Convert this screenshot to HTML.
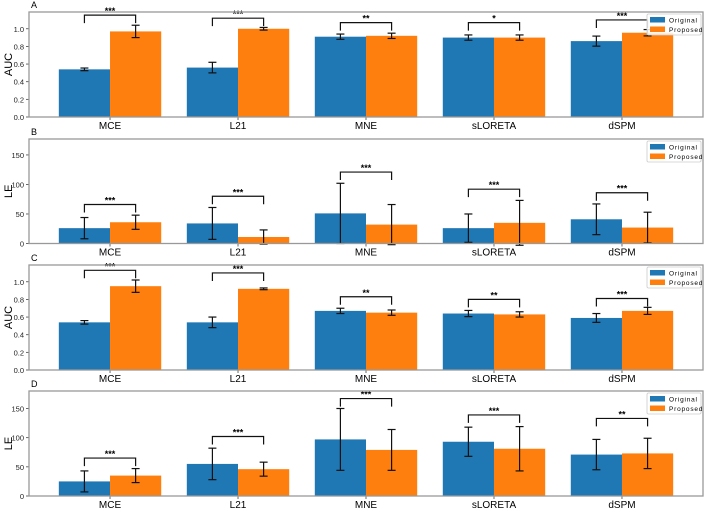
<!DOCTYPE html>
<html><head><meta charset="utf-8">
<style>
body{margin:0;background:#fff;}
svg text{font-family:"Liberation Sans","WenQuanYi Zen Hei",sans-serif;}
</style></head>
<body>
<svg id="chart" width="706" height="510" xmlns="http://www.w3.org/2000/svg"></svg>
<script>
const categories=["MCE","L21","MNE","sLORETA","dSPM"];
const seriesNames=["Original","Proposed"];
// panel A (AUC)
const aOrig=[0.54,0.56,0.91,0.90,0.86];
const aOrigErr=[0.015,0.06,0.03,0.03,0.057];
const aProp=[0.97,1.00,0.92,0.90,0.955];
const aPropErr=[0.07,0.015,0.03,0.03,0.036];
const aSig=["***","***","**","*","***"];
const aBracket=[1.155,1.12,1.07,1.07,1.10];
// panel B (LE)
const bOrig=[26,34,51,26,41];
const bOrigErr=[18,27,51,24,26];
const bProp=[36,11,32,35,27];
const bPropErr=[12,12,34,38,26];
const bSig=["***","***","***","***","***"];
const bBracket=[66,80,121,92,86];
// panel C (AUC)
const cOrig=[0.54,0.54,0.67,0.64,0.59];
const cOrigErr=[0.02,0.06,0.03,0.035,0.05];
const cProp=[0.95,0.92,0.65,0.63,0.67];
const cPropErr=[0.07,0.01,0.03,0.03,0.04];
const cSig=["***","***","**","**","***"];
const cBracket=[1.13,1.10,0.83,0.80,0.81];
// panel D (LE)
const dOrig=[25,55,97,93,71];
const dOrigErr=[18,27,53,25,26];
const dProp=[35,46,79,81,73];
const dPropErr=[12,12,35,38,26];
const dSig=["***","***","***","***","**"];
const dBracket=[65,102,167,139,133];
const aucTicks=["0.0","0.2","0.4","0.6","0.8","1.0"];
const leTicks=["0","50","100","150"];

const NS="http://www.w3.org/2000/svg";
const svg=document.getElementById('chart');
function mk(tag,attrs,parent,text){const e=document.createElementNS(NS,tag);for(const k in attrs)e.setAttribute(k,attrs[k]);if(text!==undefined)e.textContent=text;(parent||svg).appendChild(e);return e;}
const L=29,R=703;
const xmin=-0.633,xmax=4.633;
function xs(v){return L+(v-xmin)/(xmax-xmin)*(R-L);}
const bw=0.4;
const colors=["#1f77b4","#ff7f0e"];

const panels=[
 {id:"a",letter:"A",top:12,bottom:117,ymax:1.19,ylabel:"AUC",ticks:aucTicks,o:aOrig,oe:aOrigErr,p:aProp,pe:aPropErr,sig:aSig,br:aBracket},
 {id:"b",letter:"B",top:139,bottom:243.5,ymax:177,ylabel:"LE",ticks:leTicks,o:bOrig,oe:bOrigErr,p:bProp,pe:bPropErr,sig:bSig,br:bBracket},
 {id:"c",letter:"C",top:265,bottom:370,ymax:1.19,ylabel:"AUC",ticks:aucTicks,o:cOrig,oe:cOrigErr,p:cProp,pe:cPropErr,sig:cSig,br:cBracket},
 {id:"d",letter:"D",top:391,bottom:496,ymax:180,ylabel:"LE",ticks:leTicks,o:dOrig,oe:dOrigErr,p:dProp,pe:dPropErr,sig:dSig,br:dBracket}
];

panels.forEach(P=>{
 const g=mk('g',{});
 
 
 const ys=v=>P.bottom-v/P.ymax*(P.bottom-P.top);
 const t=mk('text',{x:L+2,y:P.top-4,'font-size':9,fill:'#000'},g,P.letter);
 
 
 const yl=mk('text',{x:0,y:0,'font-size':11,'text-anchor':'middle',transform:`translate(12,${(P.top+P.bottom)/2}) rotate(-90)`},g,P.ylabel);
 
 
 P.ticks.forEach(tk=>{
  const v=parseFloat(tk), y=ys(v);
  mk('line',{x1:L-3,x2:L,y1:y,y2:y,stroke:'#444','stroke-width':0.8},g);
  const tt=mk('text',{x:L-5,y:y+3,'font-size':7.5,'text-anchor':'end',fill:'#222'},g,tk);
  
  
 });
 categories.forEach((c,i)=>{
  [[P.o,P.oe],[P.p,P.pe]].forEach((s,k)=>{
   const x0=xs(i-bw+k*bw), x1=xs(i+k*bw);
   const v=s[0][i], e=s[1][i];
   const r=mk('rect',{x:x0,y:ys(v),width:x1-x0,height:P.bottom-ys(v),fill:colors[k]},g);
   
   
   const cx=(x0+x1)/2;
   mk('line',{x1:cx,x2:cx,y1:ys(v-e),y2:ys(v+e),stroke:'#111','stroke-width':1.2},g);
   mk('line',{x1:cx-4,x2:cx+4,y1:ys(v-e),y2:ys(v-e),stroke:'#111','stroke-width':1.2},g);
   mk('line',{x1:cx-4,x2:cx+4,y1:ys(v+e),y2:ys(v+e),stroke:'#111','stroke-width':1.2},g);
  });
  const xa=xs(i-bw/2), xb=xs(i+bw/2), yb=ys(P.br[i]);
  const br=mk('path',{d:`M${xa},${yb+8}V${yb}H${xb}V${yb+8}`,fill:'none',stroke:'#111','stroke-width':1.2},g);
  
  
  const st=mk('text',{x:(xa+xb)/2,y:yb-1,'font-size':9,'text-anchor':'middle','font-weight':'bold'},g,P.sig[i]);
  
  
  mk('line',{x1:xs(i),x2:xs(i),y1:P.bottom,y2:P.bottom+3,stroke:'#444','stroke-width':0.8},g);
  const xl=mk('text',{x:xs(i),y:P.bottom+12,'font-size':10,'text-anchor':'middle'},g,c);
  
  
 });
 const fr=mk('rect',{x:L,y:P.top,width:R-L,height:P.bottom-P.top,fill:'none',stroke:'#999','stroke-width':1.3},g);
 
 
 const lg=mk('g',{},g);
 
 
 mk('rect',{x:647,y:P.top+2,width:54,height:21,fill:'#fff','fill-opacity':0.85,stroke:'#ccc','stroke-width':0.8,rx:1.5},lg);
 seriesNames.forEach((n,k)=>{
  mk('rect',{x:650,y:P.top+5+k*9.5,width:15,height:5.5,fill:colors[k]},lg);
  const lt=mk('text',{x:669,y:P.top+10.5+k*9.5,'font-size':6.5,'letter-spacing':0.8},lg,n);
  
  
 });
});
</script>
</body></html>
